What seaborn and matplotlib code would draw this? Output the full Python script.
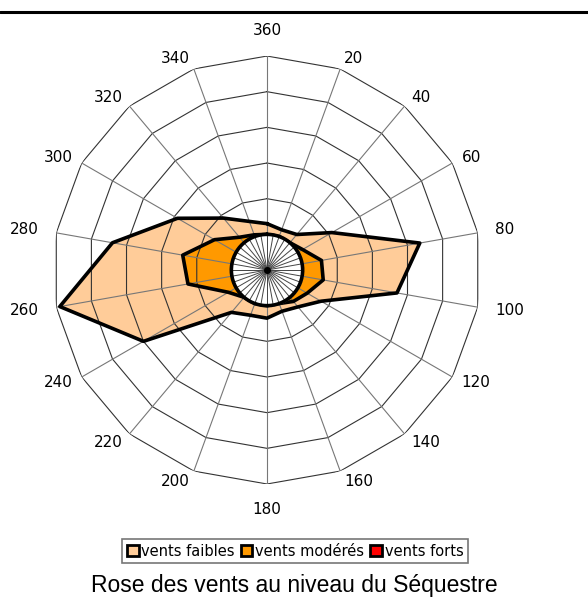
import numpy as np
import pandas as pd
import seaborn as sns
from matplotlib import pyplot as plt
from matplotlib.patches import Patch
from matplotlib.lines import Line2D

# wind directions (degrees) and the three speed classes, radius in grid units
directions = [0, 20, 40, 60, 80, 100, 120, 140, 160, 180, 200, 220, 240, 260, 280, 300, 320, 340]
dir_labels = ["360", "20", "40", "60", "80", "100", "120", "140", "160", "180",
              "200", "220", "240", "260", "280", "300", "320", "340"]
faibles = [1.3, 1.2, 1.3, 2.1, 4.35, 3.7, 1.75, 1.35, 1.23, 1.35, 1.35, 1.55, 4.0, 5.9, 4.4, 2.9, 1.9, 1.45]
moderes = [1.0, 1.0, 1.0, 1.15, 1.55, 1.6, 1.3, 1.15, 1.0, 1.0, 1.0, 1.0, 1.25, 2.25, 2.4, 1.7, 1.2, 1.05]
forts = [0.9, 0.9, 0.9, 0.9, 0.9, 0.9, 0.9, 0.9, 0.9, 0.9, 0.9, 0.9, 0.9, 0.9, 0.9, 0.9, 0.9, 0.9]
series_names = ["vents faibles", "vents modérés", "vents forts"]
colors = ["#FFCC99", "#FF9900", "#FF0000"]
rings = [1, 2, 3, 4, 5, 6]
calm_radius = 1.0

sns.set_style("white")
plt.rcParams['font.family'] = ['DejaVu Sans']
plt.rcParams['text.color'] = 'black'

theta = np.deg2rad(directions + [360])
rows = []
for name, vals in zip(series_names, [faibles, moderes, forts]):
    for t, v in zip(theta, vals + [vals[0]]):
        rows.append({"theta": t, "r": v, "serie": name})
df = pd.DataFrame(rows)

fig = plt.figure(figsize=(5.88, 6.05), dpi=100)
ax = fig.add_axes([0.0901, 0.2, 0.728, 0.7074], projection="polar")
ax.set_theta_zero_location("N")
ax.set_theta_direction(-1)
ax.set_ylim(0, rings[-1])
ax.set_yticks([])
ax.set_xticks(theta[:-1])
ax.set_xticklabels([])
ax.xaxis.grid(True, color="#777777", lw=0.8, zorder=2)
ax.spines["polar"].set_visible(False)
ax.set_axisbelow(False)

# fills
for name, col in zip(series_names, colors):
    sub = df[df["serie"] == name]
    ax.fill(sub["theta"], sub["r"], color=col, zorder=1, lw=0)

# polygonal grid rings
for rr in rings:
    ax.plot(theta, [rr] * len(theta), color="#333333", lw=0.8, zorder=2)

# outlines
sns.lineplot(data=df, x="theta", y="r", hue="serie", units="serie", estimator=None,
             sort=False, palette=["black"] * 3, lw=2.6, legend=False, ax=ax, zorder=3)

# calm circle in the middle
tt = np.linspace(0, 2 * np.pi, 200)
ax.fill_between(tt, 0, calm_radius, color="white", zorder=4)
ax.plot(tt, np.full_like(tt, calm_radius), color="black", lw=2.6, zorder=6)
for a in np.deg2rad(np.arange(0, 360, 10)):
    ax.plot([a, a], [0, calm_radius], color="#444444", lw=0.7, zorder=5)
ax.plot([0], [0], "o", color="black", ms=4, zorder=7)
ax.set_xlabel("")
ax.set_ylabel("")

# direction labels next to the outer vertices
for t, lab in zip(theta[:-1], dir_labels):
    s = np.sin(t)
    rad = 6.5 if abs(s) > 0.95 else 6.3
    if s > 0.2:
        ha = "left"
    elif s < -0.2:
        ha = "right"
    else:
        ha, rad = "center", 6.72
    ax.text(t, rad, lab, ha=ha, va="center", fontsize=11, color="black")

handles = [Patch(facecolor=c, edgecolor="black", lw=2) for c in colors]
leg = fig.legend(handles, series_names, loc="center", bbox_to_anchor=(0.502, 0.089), ncol=3,
                 fontsize=10.5, frameon=True, fancybox=False, handlelength=0.8, handleheight=0.8,
                 handletextpad=0.2, columnspacing=0.4, borderpad=0.3, labelcolor="black")
leg.get_frame().set_edgecolor("#555555")
leg.get_frame().set_linewidth(1.2)

fig.text(0.5, 0.033, "Rose des vents au niveau du Séquestre", ha="center", va="center",
         fontsize=16.5, family="Liberation Sans", color="black")
fig.add_artist(Line2D([0, 1], [0.980, 0.980], color="black", lw=2.2, transform=fig.transFigure))

fig.savefig("out.png", dpi=100)
